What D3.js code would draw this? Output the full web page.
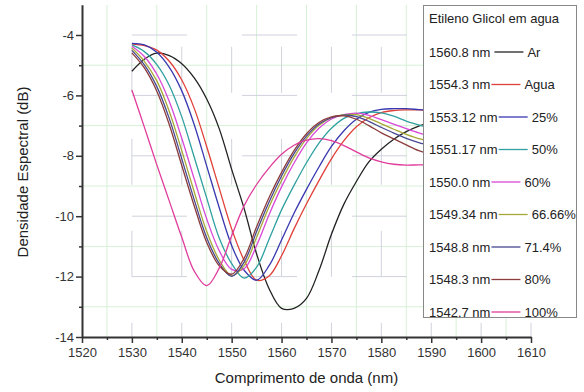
<!DOCTYPE html>
<html>

<head>
    <meta charset="utf-8">
    <title>Densidade Espectral - Etileno Glicol em agua</title>
    <style>
        body {
            margin: 0;
            background: #fff;
            font-family: "Liberation Sans", Arial, Helvetica, sans-serif;
        }

        .axis path,
        .axis line {
            stroke: #333;
        }

        .axis text {
            fill: #333;
            font-size: 13px;
            font-family: "Liberation Sans", Arial, sans-serif;
        }
    </style>
    <script src="https://d3js.org/d3.v7.min.js"></script>
</head>

<body>
    <svg width="584" height="392"></svg>

    <script>

        // wavelengths (nm) shared by every curve
        var wavelengths = [1530, 1532.5, 1535, 1537.5, 1540, 1542.5, 1545, 1547.5, 1550, 1552.5,
            1555, 1557.5, 1560, 1562.5, 1565, 1567.5, 1570, 1572.5, 1575, 1577.5,
            1580, 1582.5, 1585, 1587.5, 1590];

        // spectral density (dB)
        var ar = [-5.2, -4.8, -4.6, -4.68, -4.95, -5.42, -6.12, -7.1, -8.45, -9.75,
            -11.25, -12.4, -13.05, -13.05, -12.72, -11.8, -10.6, -9.6, -8.85, -8.2,
            -7.78, -7.45, -7.2, -7.02, -6.88];
        var agua = [-4.3, -4.35, -4.5, -4.87, -5.49, -6.43, -7.7, -9.07, -10.42, -11.46,
            -12.12, -11.98, -11.31, -10.42, -9.59, -8.82, -8.1, -7.5, -7.04, -6.74,
            -6.57, -6.5, -6.48, -6.48, -6.5];
        var p25 = [-4.28, -4.33, -4.57, -5.07, -5.85, -6.97, -8.34, -9.71, -10.97, -11.79,
            -12.12, -11.64, -10.79, -9.9, -9.11, -8.37, -7.69, -7.17, -6.79, -6.56,
            -6.46, -6.44, -6.44, -6.47, -6.5];
        var p50 = [-4.33, -4.55, -4.98, -5.67, -6.71, -8.05, -9.4, -10.72, -11.57, -12.05,
            -11.69, -10.76, -9.79, -8.98, -8.23, -7.58, -7.09, -6.76, -6.61, -6.55,
            -6.58, -6.69, -6.85, -6.98, -7.1];
        var p60 = [-4.37, -4.71, -5.3, -6.2, -7.42, -8.77, -10.09, -11.14, -11.76, -11.74,
            -10.97, -9.95, -9.03, -8.24, -7.57, -7.09, -6.78, -6.64, -6.59, -6.66,
            -6.8, -6.95, -7.1, -7.24, -7.35];
        var p6666 = [-4.43, -4.87, -5.52, -6.53, -7.83, -9.2, -10.51, -11.45, -11.97, -11.64,
            -10.7, -9.69, -8.82, -8.05, -7.43, -6.99, -6.74, -6.64, -6.64, -6.76,
            -6.94, -7.12, -7.29, -7.43, -7.52];
        var p714 = [-4.51, -4.99, -5.71, -6.77, -8.1, -9.46, -10.71, -11.56, -11.99, -11.52,
            -10.51, -9.53, -8.67, -7.93, -7.35, -6.95, -6.74, -6.65, -6.7, -6.86,
            -7.06, -7.25, -7.42, -7.56, -7.66];
        var p80 = [-4.59, -5.09, -5.86, -6.97, -8.32, -9.66, -10.87, -11.64, -11.92, -11.39,
            -10.35, -9.38, -8.55, -7.83, -7.27, -6.9, -6.71, -6.68, -6.79, -7.0,
            -7.24, -7.44, -7.64, -7.83, -7.95];
        var p100 = [-5.82, -7.05, -8.3, -9.5, -10.7, -11.82, -12.3, -11.72, -10.65, -9.65,
            -8.95, -8.4, -7.95, -7.65, -7.48, -7.43, -7.5, -7.66, -7.87, -8.07,
            -8.2, -8.28, -8.31, -8.3, -8.3];

        var seriesValues = [ar, agua, p25, p50, p60, p6666, p714, p80, p100];
        var legendNm = ["1560.8 nm", "1554.3 nm", "1553.12 nm", "1551.17 nm", "1550.0 nm",
            "1549.34 nm", "1548.8 nm", "1548.3 nm", "1542.7 nm"];
        var legendLabels = ["Ar", "Agua", "25%", "50%", "60%", "66.66%", "71.4%", "80%", "100%"];
        var colors = ["#222222", "#e0403a", "#3838b0", "#30a0a0", "#d848d8",
            "#a8a838", "#484890", "#8c3c3c", "#e03c9c"];

        var xMajor = d3.range(1520, 1611, 10);
        var xMinor = d3.range(1525, 1610, 10);
        var yMajor = [-14, -12, -10, -8, -6, -4];
        var yMinor = [-13, -11, -9, -7, -5];

        var svg = d3.select("svg");

        var x = d3.scaleLinear().domain([1520, 1610]).range([82, 531]);
        var y = d3.scaleLinear().domain([-14, -3]).range([337, 4.8]);

        // minor grid (light green)
        var grid = svg.append("g");
        grid.selectAll(".vmin").data(xMinor).enter().append("line")
            .attr("x1", d => x(d)).attr("x2", d => x(d))
            .attr("y1", y(-3)).attr("y2", y(-14))
            .attr("stroke", "#d6f0d6").attr("stroke-width", 1);
        grid.selectAll(".hmin").data(yMinor).enter().append("line")
            .attr("x1", x(1520)).attr("x2", x(1610))
            .attr("y1", d => y(d)).attr("y2", d => y(d))
            .attr("stroke", "#d6f0d6").attr("stroke-width", 1);

        // major grid (broken grey lines)
        grid.selectAll(".vmaj").data(xMajor.slice(1)).enter().append("line")
            .attr("x1", d => x(d)).attr("x2", d => x(d))
            .attr("y1", y(-3)).attr("y2", y(-14))
            .attr("stroke", "#d0d2dc").attr("stroke-width", 1)
            .attr("stroke-dasharray", "46,46").attr("stroke-dashoffset", 50);
        grid.selectAll(".hmaj").data(yMajor.slice(1)).enter().append("line")
            .attr("x1", x(1520)).attr("x2", x(1610))
            .attr("y1", d => y(d)).attr("y2", d => y(d))
            .attr("stroke", "#d0d2dc").attr("stroke-width", 1)
            .attr("stroke-dasharray", "55,55").attr("stroke-dashoffset", 60);

        // curves
        var line = d3.line()
            .x(function (d, i) { return x(wavelengths[i]); })
            .y(function (d) { return y(d); })
            .curve(d3.curveCatmullRom.alpha(0.5));

        svg.append("g").selectAll("path")
            .data(seriesValues)
            .enter().append("path")
            .attr("d", d => line(d))
            .attr("fill", "none")
            .attr("stroke", (d, i) => colors[i])
            .attr("stroke-width", 1.3);

        // axes (plain hyphen for negative labels, as in the original)
        var plain = function (d) { return String(d); };

        svg.append("g").attr("class", "axis")
            .attr("transform", "translate(0," + y(-14) + ")")
            .call(d3.axisBottom(x).tickValues(xMajor).tickSize(6).tickSizeOuter(0).tickPadding(5).tickFormat(plain));
        svg.append("g").attr("class", "axis")
            .attr("transform", "translate(0," + y(-14) + ")")
            .call(d3.axisBottom(x).tickValues(xMinor).tickSize(3).tickSizeOuter(0).tickFormat(""))
            .select(".domain").remove();

        svg.append("g").attr("class", "axis")
            .attr("transform", "translate(" + x(1520) + ",0)")
            .call(d3.axisLeft(y).tickValues(yMajor).tickSize(6).tickSizeOuter(0).tickPadding(2).tickFormat(plain));
        svg.append("g").attr("class", "axis")
            .attr("transform", "translate(" + x(1520) + ",0)")
            .call(d3.axisLeft(y).tickValues(yMinor).tickSize(3).tickSizeOuter(0).tickFormat(""))
            .select(".domain").remove();

        svg.selectAll(".axis .domain").attr("stroke-width", 2);
        svg.selectAll(".axis .tick line").attr("stroke-width", 1.5);

        // axis titles
        svg.append("text")
            .attr("x", (x(1520) + x(1610)) / 2)
            .attr("y", 383)
            .attr("text-anchor", "middle")
            .attr("font-size", 15)
            .attr("fill", "#222")
            .text("Comprimento de onda (nm)");

        svg.append("text")
            .attr("transform", "translate(28," + 172 + ") rotate(-90)")
            .attr("text-anchor", "middle")
            .attr("font-size", 15)
            .attr("fill", "#222")
            .text("Densidade Espectral (dB)");

        // legend
        var legend = svg.append("g");
        legend.append("rect")
            .attr("x", 423.5).attr("y", 5.5)
            .attr("width", 153).attr("height", 312)
            .attr("fill", "#fff")
            .attr("stroke", "#888").attr("stroke-width", 1);

        legend.append("text")
            .attr("x", 429).attr("y", 23)
            .attr("font-size", 13).attr("fill", "#222")
            .text("Etileno Glicol em agua");

        legendNm.forEach(function (nm, i) {
            var cy = 52 + i * 32.5;
            var t = legend.append("text")
                .attr("x", 429).attr("y", cy + 4.5)
                .attr("font-size", 13).attr("fill", "#222")
                .text(nm);
            var end = 429 + t.node().getComputedTextLength() + (i === 0 ? 4 : 1);
            legend.append("line")
                .attr("x1", end).attr("x2", end + 29)
                .attr("y1", cy).attr("y2", cy)
                .attr("stroke", colors[i]).attr("stroke-width", 1.3);
            legend.append("text")
                .attr("x", end + 33).attr("y", cy + 4.5)
                .attr("font-size", 13).attr("fill", "#222")
                .text(legendLabels[i]);
        });

    </script>

</body>

</html>
